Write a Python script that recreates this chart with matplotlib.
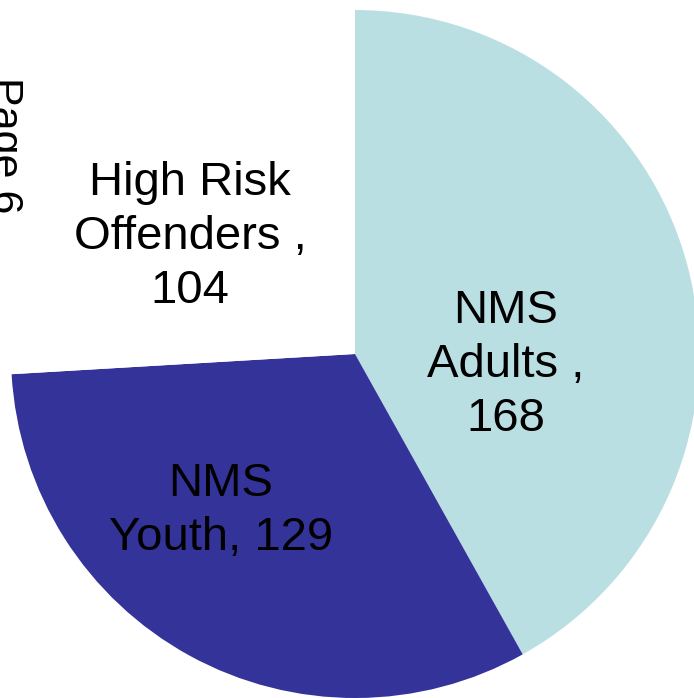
import matplotlib
matplotlib.use("Agg")
import matplotlib.pyplot as plt

plt.rcParams['font.family'] = ['Liberation Sans', 'DejaVu Sans']

categories = ["NMS Adults", "NMS Youth", "High Risk Offenders"]
values = [168, 129, 104]
labels = ["NMS\nAdults ,\n168", "NMS\nYouth, 129", "High Risk\nOffenders ,\n104"]
colors = ["#B9DFE2", "#333399", "#FFFFFF"]
label_pos = [(0.439, -0.032), (-0.390, -0.456), (-0.480, 0.340)]

W, H = 694, 698
fig = plt.figure(figsize=(W / 100, H / 100), dpi=100)
ax = fig.add_axes([11 / W, 0, 688 / W, 688 / H])
ax.pie(values, colors=colors, startangle=90, counterclock=False, radius=1,
       wedgeprops=dict(linewidth=0))
ax.set_xlim(-1, 1)
ax.set_ylim(-1, 1)
ax.set_aspect('auto')
ax.axis('off')

for txt, (x, y) in zip(labels, label_pos):
    ax.text(x, y, txt, ha='center', va='center', fontsize=34, color='black',
            linespacing=1.3)

fig.text(24 / W, 1 - 77 / H, "Page 6", rotation=-90, ha='right', va='top',
         fontsize=31, color='black')

fig.savefig("out.png", dpi=100)
